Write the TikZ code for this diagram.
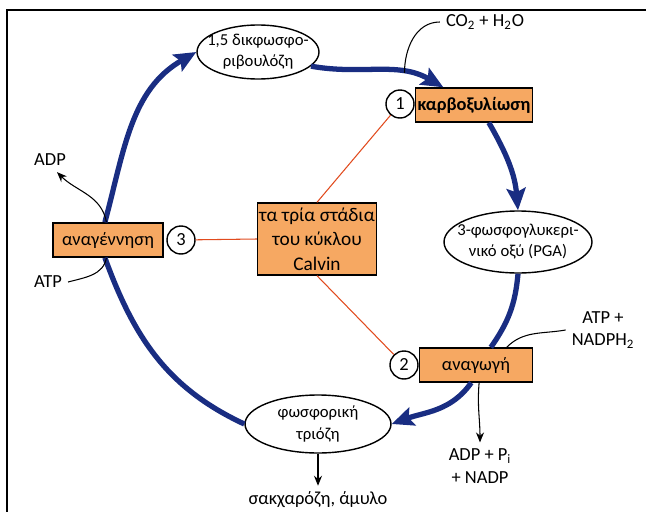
\documentclass[tikz,border=0pt]{standalone}
\usepackage{fontspec}
\setmainfont{Carlito}
\usetikzlibrary{shapes.geometric,arrows.meta}
\definecolor{cycleblue}{RGB}{25, 45, 130}
\definecolor{stagefill}{RGB}{246, 168, 98}
\definecolor{linkred}{RGB}{225, 75, 30}

\begin{document}
\begin{tikzpicture}[x=0.02cm, y=0.02cm,
    font=\fontsize{10.5}{13}\selectfont,
    mol/.style={ellipse, draw, thick, fill=white, inner xsep=-5mm,
                inner ysep=-1mm, align=center,
                font=\fontsize{9.5}{12}\selectfont},
    stage/.style={rectangle, draw, thick, fill=stagefill, inner sep=0pt,
                  align=center},
    num/.style={circle, draw, thick, fill=white, minimum size=0.56cm,
                inner sep=0pt},
    cyc/.style={line width=3pt, color=cycleblue},
    cycarr/.style={cyc, -{Stealth[length=4.4mm, width=3.8mm, inset=0.8mm]}},
    side/.style={semithick, -{Stealth[length=2mm, width=1.6mm]}},
    link/.style={semithick, color=linkred}]

    \useasboundingbox (0,0) rectangle (646,512);
    % Frame
    \draw[line width=1.2pt] (646,502) -- (7,502) -- (7,0);

    % Molecules of the cycle
    \node[mol, minimum width=2.44cm, minimum height=1.08cm] (rubp) at (258,460)
        {1,5 δικφωσφο-\\ριβουλόζη};
    \node[mol, minimum width=2.96cm, minimum height=1.24cm] (pga) at (518,270)
        {3-φωσφογλυκερι-\\νικό οξύ (PGA)};
    \node[mol, minimum width=2.92cm, minimum height=1.16cm] (tri) at (318,88)
        {φωσφορική\\τριόζη};

    % Stages
    \node[stage, minimum width=2.34cm, minimum height=0.68cm] (carb) at (474,407)
        {\bfseries καρβοξυλίωση};
    \node[stage, minimum width=2.26cm, minimum height=0.68cm] (red) at (476,147)
        {αναγωγή};
    \node[stage, minimum width=2.2cm, minimum height=0.68cm] (regen) at (108,272)
        {αναγέννηση};
    \node[stage, minimum width=2.38cm, minimum height=1.44cm,
          font=\fontsize{11}{14}\selectfont] (calvin) at (317,273)
        {τα τρία στάδια\\του κύκλου\\Calvin};

    \node[num] (n1) at (400,408) {1};
    \node[num] (n2) at (404,147) {2};
    \node[num] (n3) at (181,272) {3};

    % Inputs and outputs
    \node (co2)    at (485,490) {CO\textsubscript{2} + H\textsubscript{2}O};
    \node (adp)    at (50,352)  {ADP};
    \node (atp)    at (48,230)  {ATP};
    \node[align=center] (atpin)  at (603,182) {ATP +\\NADPH\textsubscript{2}};
    \node[align=center] (adpout) at (480,46)  {ADP + P\textsubscript{i}\\+ NADP};
    \node (sugar)  at (318,12)  {σακχαρόζη, άμυλο};

    % Calvin cycle
    \draw[cycarr] (regen.100) to[out=75, in=210] (rubp.west);
    \draw[cycarr] (rubp.-15) to[out=-10, in=150]
        coordinate[pos=0.7] (co2in) (carb.150);
    \draw[cycarr] (carb.-50) to[out=-60, in=95] (pga.north);
    \draw[cyc]    (pga.south) to[out=-95, in=55] (red.50);
    \draw[cycarr] (red.-105) to[out=-125, in=20] (tri.east);
    \draw[cyc]    (tri.west) to[out=155, in=-70] (regen.-100);

    % Links to the three stages
    \draw[link] (n1) -- (calvin.north);
    \draw[link] (n3) -- (calvin.west);
    \draw[link] (calvin.south) -- (n2);

    % Side reactions
    \draw[semithick] (co2.west) to[out=180, in=90] (co2in);
    \draw[side] (regen.95) to[out=100, in=-45] (adp.-60);
    \draw[semithick] (atp.east) to[out=15, in=-100] (regen.-95);
    \draw[semithick] (atpin.west) to[out=190, in=45] (red.30);
    \draw[side] (red.-80) to[out=-95, in=90] (adpout.north);
    \draw[side] (tri.south) -- (sugar.north);

\end{tikzpicture}
\end{document}
